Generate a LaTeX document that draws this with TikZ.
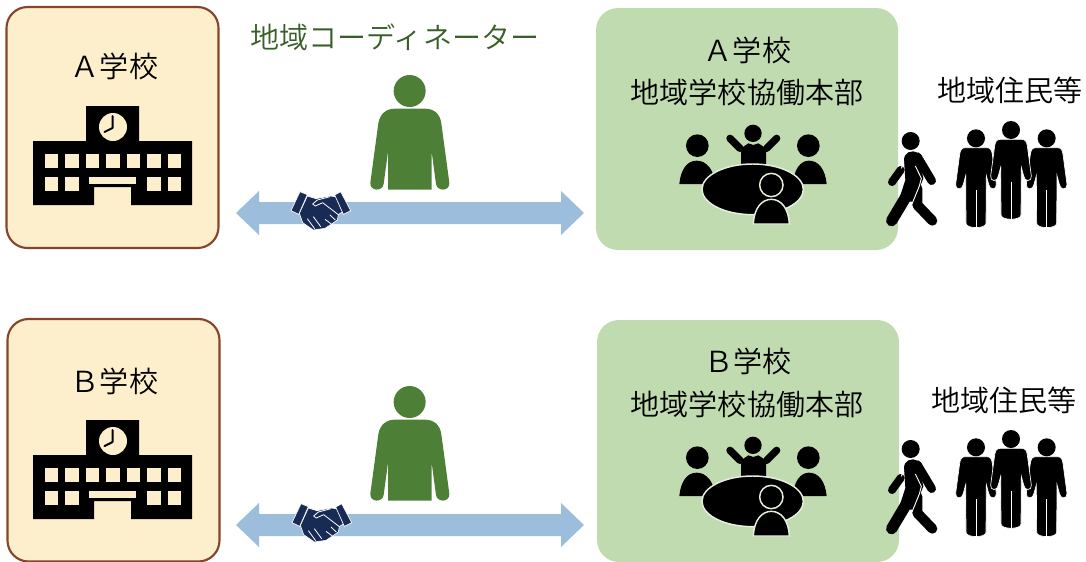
\documentclass[tikz,border=0pt]{standalone}
\usepackage{fontspec}
\setmainfont{Noto Sans CJK JP DemiLight}
\definecolor{schoolfill}{HTML}{FDEFCB}
\definecolor{schoolline}{HTML}{85452A}
\definecolor{hqfill}{HTML}{C1DBB0}
\definecolor{persongreen}{HTML}{4E7F36}
\definecolor{titlegreen}{HTML}{385F28}
\definecolor{arrowblue}{HTML}{9DBDDD}
\definecolor{shakeblue}{HTML}{172B55}
\definecolor{halo}{HTML}{E6F0DE}
\tikzset{
  schoolbox/.style={draw=schoolline,line width=1.6pt,fill=schoolfill,rounded corners=21pt*0.75},
  hqbox/.style={fill=hqfill,rounded corners=22pt*0.75},
  label/.style={font=\fontsize{21.8pt}{25pt}\selectfont,inner sep=0pt,text=black},
  titlelabel/.style={label,text=titlegreen},
  win/.style={fill=schoolfill,draw=none},
  halofill/.style={fill=black,draw=halo,line width=1.1pt},
}
\newcommand{\schoolicon}{%
  \fill[black] (33,141)--(86,141)--(86,106)--(139,106)--(139,141)--(192,141)--(192,205)--(131,205)--(131,187)--(94,187)--(94,205)--(33,205)--cycle;
  \fill[win] (113,127) circle (14);
  \draw[black,line width=1.5pt,line cap=round,line join=round] (112.5,116)--(112.5,128)--(104.5,132);
  \foreach \wx in {44.7,65.2,85.7,106.2,126.7,147.2,167.7}{\fill[win] (\wx,154) rectangle ++(13.5,14);}
  \foreach \wx in {44.7,65.2,147.2,167.7}{\fill[win] (\wx,177) rectangle ++(13.5,14);}
  \fill[win] (89,177) rectangle (136,184);
}
\newcommand{\coordinator}{%
  \begin{scope}[shift={(230,60)},x=0.25pt,y=-0.25pt]
    \fill[persongreen] (539,93) circle (48);
    \fill[persongreen] (474,389)--(474,275)--(461,372) .. controls (458,395) and (419,395) .. (421,368)--(445,190) .. controls (450,160) and (470,146) .. (495,146)--(585,146) .. controls (610,146) and (630,160) .. (634,190)--(658,368) .. controls (660,395) and (621,395) .. (618,372)--(605,275)--(605,389)--cycle;
  \end{scope}
}
\newcommand{\twoway}{%
  \fill[arrowblue] (236,213)--(259,191)--(259,202)--(561,202)--(561,191)--(584,213)--(561,235)--(561,224)--(259,224)--(259,235)--cycle;
}
\newcommand{\handshake}{%
  \begin{scope}[shift={(230,60)},x=0.25pt,y=-0.25pt]
    \fill[shakeblue,draw=white,line width=0.5pt] (232,408)--(258,416)--(300,408)--(318,410)--(338,455)--(325,464)--(322,480)--(305,492)--(285,505)--(250,510)--(218,488)--(208,460)--cycle;
    \fill[shakeblue,draw=white,line width=0.5pt] (210,395)--(232,404)--(206,463)--(183,452)--cycle;
    \fill[shakeblue,draw=white,line width=0.5pt] (332,395)--(362,452)--(340,463)--(314,405)--cycle;
    \draw[white,line width=0.6pt,line join=round] (300,410)--(262,420)--(248,432)--(256,438)--(278,428)--(325,464);
    \draw[white,line width=0.6pt] (300,465)--(316,480) (285,478)--(304,492) (250,470)--(272,500) (232,476)--(254,506);
  \end{scope}
}
\newcommand{\meeting}{%
  \begin{scope}[shift={(660,110)},x=0.25pt,y=-0.25pt]
    \fill[black] (112,107) circle (34);
    \fill[black] (58,222) .. controls (62,180) and (80,152) .. (110,152) .. controls (140,152) and (162,180) .. (166,222)--cycle;
    \fill[black] (445,107) circle (34);
    \fill[black] (398,222) .. controls (402,180) and (420,152) .. (447,152) .. controls (477,152) and (496,180) .. (500,222)--cycle;
    \fill[black] (279,70) circle (26);
    \fill[black] (243,115)--(265,100)--(280,105)--(295,100)--(318,115)--(318,170)--(243,170)--cycle;
    \draw[black,line width=5.5pt,line cap=round] (210,85)--(240,115) (350,85)--(320,115);
    \draw[halofill] (278,238) ellipse (152 and 76);
    \draw[halofill] (334,225) circle (35);
    \draw[halofill] (280,342) .. controls (282,295) and (305,268) .. (334,268) .. controls (363,268) and (386,295) .. (388,342)--cycle;
  \end{scope}
}
\newcommand{\walker}{%
  \begin{scope}[shift={(880,110)},x=0.25pt,y=-0.25pt]
    \fill[black] (92,93) circle (27);
    \draw[black,line width=7.5pt,line cap=round,line join=round] (112,235)--(112,285)--(157,332);
    \draw[black,line width=6.5pt,line cap=round] (112,140)--(155,212);
    \draw[black,line width=6pt,line cap=round] (62,180)--(36,216);
    \fill[black] (72,150) .. controls (72,128) and (95,116) .. (114,130)--(130,205)--(102,275)--(55,275)--(76,210)--cycle;
    \draw[black,line width=8.5pt,line cap=round] (90,240)--(35,332);
    \draw[white,line width=0.7pt] (106,168)--(124,205)--(118,228)--(96,282);
    \draw[white,line width=0.7pt] (72,155)--(64,175);
  \end{scope}
}
\newcommand{\oneperson}[2]{%
  \begin{scope}[shift={(880,110)},x=0.25pt,y=-0.25pt,shift={(#1,#2)}]
    \filldraw[fill=black,draw=white,line width=0.5pt] (-32,28) .. controls (-44,28) and (-47,36) .. (-49,48)--(-61,138) .. controls (-63,156) and (-40,156) .. (-38,138)--(-31,112)--(-30,255) .. controls (-30,272) and (30,272) .. (30,255)--(31,112)--(38,138) .. controls (40,156) and (63,156) .. (61,138)--(49,48) .. controls (47,36) and (44,28) .. (32,28)--cycle;
    \fill[black] (0,0) circle (27);
    \draw[white,line width=0.5pt] (0,155)--(0,270);
  \end{scope}
}
\newcommand{\crowd}{%
  \oneperson{288}{85}
  \oneperson{500}{85}
  \oneperson{393}{60}
}
\begin{document}
\begin{tikzpicture}[x=0.75pt,y=-0.75pt]
\useasboundingbox (0,0) rectangle (1086,561);
\draw[schoolbox] (6.5,7) rectangle (218.5,248);
\begin{scope}\schoolicon\end{scope}
\node[label] (schoolA) at (114.5,66) {Ａ学校};
\fill[hqbox] (596,8) rectangle (898,250);
\node[label] (hqAname) at (747.5,50) {Ａ学校};
\node[label] (hqAtitle) at (747,92) {地域学校協働本部};
\meeting
\node[titlelabel] (coordtitle) at (395,37) {地域コーディネーター};
\coordinator
\twoway
\handshake
\walker
\crowd
\node[label] (residentsA) at (1010,90) {地域住民等};
\draw[schoolbox] (7.5,319) rectangle (219.5,561.5);
\begin{scope}[yshift=-314*0.75pt]\schoolicon\end{scope}
\node[label] (schoolB) at (114.5,381) {Ｂ学校};
\fill[hqbox] (597,320) rectangle (899,562);
\node[label] (hqBname) at (748,361) {Ｂ学校};
\node[label] (hqBtitle) at (747,404) {地域学校協働本部};
\begin{scope}[yshift=-312*0.75pt]\meeting\end{scope}
\begin{scope}[yshift=-311*0.75pt]\coordinator\end{scope}
\begin{scope}[yshift=-312*0.75pt]\twoway\end{scope}
\begin{scope}[xshift=0.75pt,yshift=-312*0.75pt]\handshake\end{scope}
\begin{scope}[yshift=-308*0.75pt]\walker\end{scope}
\begin{scope}[yshift=-309*0.75pt]\crowd\end{scope}
\node[label] (residentsB) at (1004,400) {地域住民等};
\end{tikzpicture}
\end{document}
